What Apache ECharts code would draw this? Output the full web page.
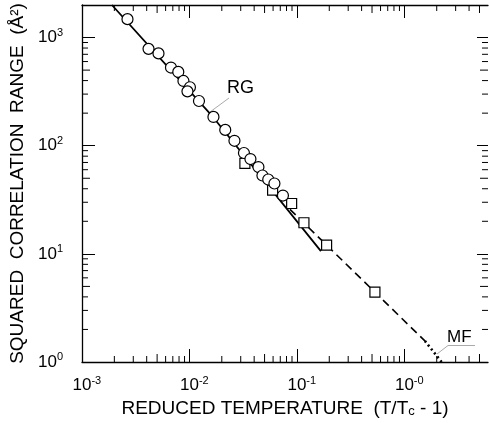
<!DOCTYPE html>
<html>
<head>
<meta charset="utf-8">
<script src="https://cdn.jsdelivr.net/npm/echarts@6/dist/echarts.min.js"></script>
<style>
html,body{margin:0;padding:0;background:#fff;}
#chart{width:489px;height:423px;}
</style>
</head>
<body>
<div id="chart"></div>
<script>
// RG data (circles)
var rgT = [0.00265, 0.00416, 0.00515, 0.00673, 0.00787, 0.00879, 0.0101, 0.00958, 0.01226, 0.01672,
           0.02153, 0.02622, 0.03214, 0.03693, 0.04384, 0.04776, 0.0541, 0.06175, 0.0741];
var rgR = [1480, 786, 714, 528, 481, 397, 347, 318, 259, 184.5,
           140, 111, 85.6, 75.3, 63.5, 53, 48.7, 44.7, 34.6];
// squares
var sqT = [0.0328, 0.0594, 0.0893, 0.1162, 0.1889, 0.532];
var sqR = [68.7, 38.9, 29.2, 19.4, 12.04, 4.42];
// RG fit (solid)
var rgLineT = [0.0019, 0.01654, 0.1672];
var rgLineR = [2000, 184.4, 10.6];
// MF line (dashed, then dotted)
var mfDashT = [0.0861, 1.551];
var mfDashR = [25.8, 1.568];
var mfDotT = [1.551, 2.22];
var mfDotR = [1.568, 1.0];

// axes
var xMin = 0.001, xMax = 6;
var yMin = 1, yMax = 2000;
var xTickVals = [0.001, 0.01, 0.1, 1];
var xTickExp = ['-3', '-2', '-1', '-0'];
var yTickVals = [1, 10, 100, 1000];
var yTickExp = ['0', '1', '2', '3'];

function minorTicks(lo, hi) {
    var out = [];
    for (var d = Math.floor(Math.log10(lo)); Math.pow(10, d) < hi; d++) {
        for (var m = 2; m <= 9; m++) {
            var v = m * Math.pow(10, d);
            if (v > lo && v < hi) out.push(v);
        }
    }
    return out;
}
var xMinor = minorTicks(xMin, xMax);
var yMinor = minorTicks(yMin, yMax);

function pairs(a, b) {
    return a.map(function (v, i) { return [v, b[i]]; });
}
function findIdx(arr, v) {
    for (var i = 0; i < arr.length; i++) {
        if (Math.abs(Math.log10(arr[i] / v)) < 1e-6) return i;
    }
    return -1;
}
function isFive(v) {
    var m = v / Math.pow(10, Math.floor(Math.log10(v) + 1e-9));
    return Math.abs(m - 5) < 1e-6;
}

var FONT = 'Liberation Sans';
var supRich = {
    p: {fontSize: 11, fontFamily: FONT, color: 'rgba(0,0,0,0)', padding: [0, 0, 10, 0]},
    b: {fontSize: 17, fontFamily: FONT, color: '#000'},
    s: {fontSize: 11, fontFamily: FONT, color: '#000', padding: [0, 0, 10, 0]}
};

var chart = echarts.init(document.getElementById('chart'), null, {renderer: 'canvas'});

var axisLineStyle = {color: '#000', width: 1.3};
var tickStyle = {color: '#000', width: 1};

var option = {
    backgroundColor: '#fff',
    animation: false,
    grid: {left: 82, right: 1, top: 5, bottom: 61, containLabel: false, outerBoundsMode: 'none'},
    xAxis: [{
        type: 'log', logBase: 10, position: 'bottom', min: xMin, max: xMax,
        axisLine: {show: true, lineStyle: axisLineStyle},
        axisTick: {show: true, inside: true, length: 13, customValues: xTickVals, lineStyle: tickStyle},
        minorTick: {show: false},
        splitLine: {show: false},
        axisLabel: {
            show: true, margin: 13, customValues: xTickVals, rich: supRich,
            formatter: function (v) {
                var i = findIdx(xTickVals, v);
                if (i < 0) return '';
                return '{p|' + xTickExp[i] + '}{b|10}{s|' + xTickExp[i] + '}';
            }
        },
        name: '{a|REDUCED TEMPERATURE  (T/T}{c|c}{a| - 1)}',
        nameLocation: 'middle', nameGap: 33,
        nameTextStyle: {
            rich: {
                a: {fontSize: 19, fontFamily: FONT, color: '#000'},
                c: {fontSize: 13, fontFamily: FONT, color: '#000', padding: [6, 0, 0, 0]}
            }
        }
    }, {
        type: 'log', logBase: 10, position: 'top', min: xMin, max: xMax,
        axisLine: {show: true, lineStyle: axisLineStyle},
        axisTick: {show: true, inside: true, length: 13, customValues: xTickVals, lineStyle: tickStyle},
        axisLabel: {show: false},
        splitLine: {show: false}
    }],
    yAxis: [{
        type: 'log', logBase: 10, position: 'left', min: yMin, max: yMax,
        axisLine: {show: true, lineStyle: axisLineStyle},
        axisTick: {show: true, inside: true, length: 13, customValues: yTickVals, lineStyle: tickStyle},
        splitLine: {show: false},
        axisLabel: {
            show: true, margin: 19, customValues: yTickVals, rich: supRich,
            formatter: function (v) {
                var i = findIdx(yTickVals, v);
                if (i < 0) return '';
                return '{b|10}{s|' + yTickExp[i] + '}';
            }
        },
        name: 'SQUARED  CORRELATION  RANGE  (Å²)',
        nameLocation: 'middle', nameGap: 43, nameRotate: 90,
        nameTextStyle: {fontSize: 19, fontFamily: FONT, color: '#000'}
    }, {
        type: 'log', logBase: 10, position: 'right', min: yMin, max: yMax,
        axisLine: {show: false},
        axisTick: {show: true, inside: true, length: 11, customValues: yTickVals, lineStyle: tickStyle},
        axisLabel: {show: false},
        splitLine: {show: false}
    }],
    series: [
        {
            type: 'custom', xAxisIndex: 0, yAxisIndex: 0, clip: false, silent: true, z: 1,
            data: xMinor.map(function (v) { return [v, yMin]; }),
            encode: {x: 0, y: 1},
            renderItem: function (params, api) {
                var v = api.value(0);
                var b = api.coord([v, yMin]);
                var t = api.coord([v, yMax]);
                var len = isFive(v) ? 8 : 6;
                return {type: 'group', children: [
                    {type: 'line', shape: {x1: b[0], y1: b[1], x2: b[0], y2: b[1] - len}, style: {stroke: '#000', lineWidth: 1}},
                    {type: 'line', shape: {x1: t[0], y1: t[1], x2: t[0], y2: t[1] + len}, style: {stroke: '#000', lineWidth: 1}}
                ]};
            }
        },
        {
            type: 'custom', xAxisIndex: 0, yAxisIndex: 0, clip: false, silent: true, z: 1,
            data: yMinor.map(function (v) { return [xMin, v]; }),
            encode: {x: 0, y: 1},
            renderItem: function (params, api) {
                var v = api.value(1);
                var l = api.coord([xMin, v]);
                var r = api.coord([xMax, v]);
                var len = isFive(v) ? 8 : 6;
                return {type: 'group', children: [
                    {type: 'line', shape: {x1: l[0], y1: l[1], x2: l[0] + len, y2: l[1]}, style: {stroke: '#000', lineWidth: 1}},
                    {type: 'line', shape: {x1: r[0], y1: r[1], x2: r[0] - len, y2: r[1]}, style: {stroke: '#000', lineWidth: 1}}
                ]};
            }
        },
        {
            name: 'RG fit', type: 'line', data: pairs(rgLineT, rgLineR), showSymbol: false, z: 2,
            lineStyle: {color: '#000', width: 1.8}
        },
        {
            name: 'MF', type: 'line', data: pairs(mfDashT, mfDashR), showSymbol: false, z: 2,
            lineStyle: {color: '#000', width: 1.6, type: [8, 5]}
        },
        {
            name: 'MF dots', type: 'line', data: pairs(mfDotT, mfDotR), showSymbol: false, z: 2,
            lineStyle: {color: '#000', width: 2.6, type: [2, 3]}
        },
        {
            name: 'squares', type: 'scatter', data: pairs(sqT, sqR), symbol: 'rect', symbolSize: 10, z: 3,
            itemStyle: {color: '#fff', borderColor: '#000', borderWidth: 1.2, opacity: 1}
        },
        {
            name: 'RG', type: 'scatter', data: pairs(rgT, rgR), symbol: 'circle', symbolSize: 11, z: 4,
            itemStyle: {color: '#fff', borderColor: '#000', borderWidth: 1.2, opacity: 1}
        }
    ],
    graphic: [
        {type: 'line', shape: {x1: 210, y1: 112, x2: 229, y2: 98}, style: {stroke: '#aaa', lineWidth: 1}},
        {type: 'text', left: 227, top: 79, style: {text: 'RG', fontSize: 18, fontFamily: FONT, fill: '#000'}},
        {type: 'polyline', shape: {points: [[437, 354], [448, 345.5], [475, 345.5]]}, style: {stroke: '#aaa', lineWidth: 1, fill: null}},
        {type: 'text', left: 447, top: 329, style: {text: 'MF', fontSize: 17, fontFamily: FONT, fill: '#000'}}
    ]
};
chart.setOption(option);
</script>
</body>
</html>
